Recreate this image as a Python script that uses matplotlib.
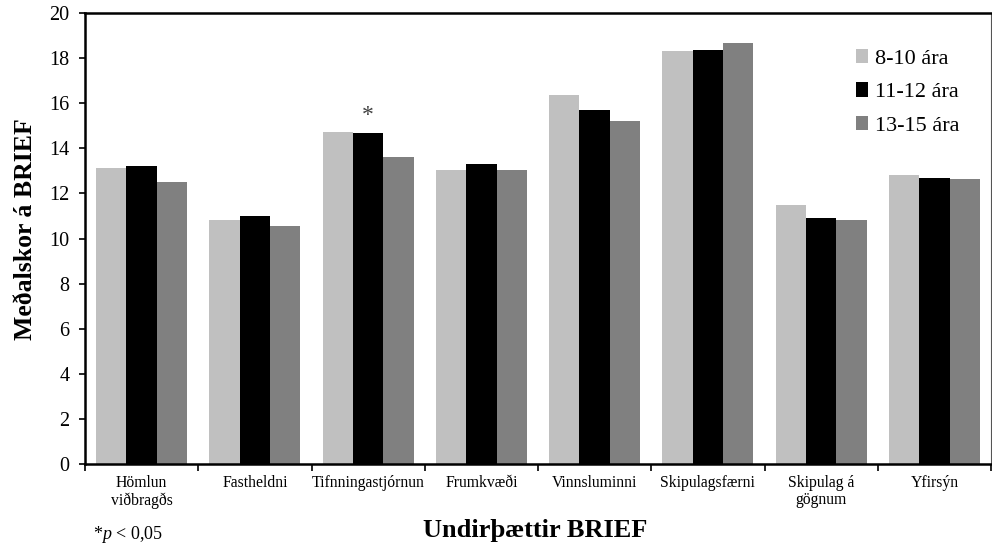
import numpy as np
import matplotlib
matplotlib.use("Agg")
import matplotlib.pyplot as plt

plt.rcParams["font.family"] = ["Liberation Serif", "DejaVu Serif"]
plt.rcParams["mathtext.fontset"] = "custom"
plt.rcParams["mathtext.it"] = "Liberation Serif:italic"
plt.rcParams["mathtext.rm"] = "Liberation Serif"

categories = ["Hömlun\nviðbragðs", "Fastheldni", "Tifnningastjórnun", "Frumkvæði",
              "Vinnsluminni", "Skipulagsfærni", "Skipulag á\ngögnum", "Yfirsýn"]
groups = ["8-10 ára", "11-12 ára", "13-15 ára"]
age_8_10 = [13.13, 10.81, 14.73, 13.06, 16.35, 18.33, 11.49, 12.82]
age_11_12 = [13.21, 11.00, 14.69, 13.30, 15.69, 18.36, 10.91, 12.68]
age_13_15 = [12.50, 10.56, 13.62, 13.02, 15.21, 18.67, 10.81, 12.63]
signif = [2]  # index of category marked with *

colors = ["#c0c0c0", "#000000", "#808080"]

fig = plt.figure(figsize=(9.92, 5.47), dpi=100)
ax = fig.add_axes([0.0857, 0.1517, 0.9133, 0.8245])

x = np.arange(len(categories))
w = 0.268
for i, (vals, lab) in enumerate(zip([age_8_10, age_11_12, age_13_15], groups)):
    ax.bar(x + (i - 1) * w, vals, width=w, color=colors[i], label=lab)

for ci in signif:
    ax.text(x[ci], age_11_12[ci] + 0.3, "*", ha="center", va="bottom",
            fontsize=17, color="#404040")

ax.set_xlim(-0.5, len(categories) - 0.5)
ax.set_ylim(0, 20)
ax.set_yticks(np.arange(0, 21, 2))
ax.tick_params(axis="y", labelsize=14.5, direction="out", length=4, width=1.2, pad=7)
ax.set_xticks(x)
ax.set_xticklabels(categories, fontsize=11.3, linespacing=1.1)
ax.tick_params(axis="x", which="major", length=0, pad=8)
ax.set_xticks(np.arange(-0.5, len(categories) + 0.5, 1), minor=True)
ax.tick_params(axis="x", which="minor", direction="out", length=5, width=1.2)

for s in ax.spines.values():
    s.set_linewidth(1.8)
ax.spines["right"].set_linewidth(0.8)
ax.spines["right"].set_color("#555555")

ax.set_ylabel("Meðalskor á BRIEF", fontsize=18.5, fontweight="bold")
ax.yaxis.set_label_coords(-0.053, 0.52)
ax.set_xlabel("Undirþættir BRIEF", fontsize=19, fontweight="bold")
ax.xaxis.set_label_coords(0.497, -0.122)

fig.text(0.094, 0.0146, r"*$\it{p}$ < 0,05", fontsize=13)

ax.legend(loc="upper right", bbox_to_anchor=(0.987, 0.965), frameon=False,
          fontsize=16, handlelength=0.55, handleheight=0.6, handletextpad=0.3,
          labelspacing=0.62)

fig.savefig("out.png", dpi=100)
